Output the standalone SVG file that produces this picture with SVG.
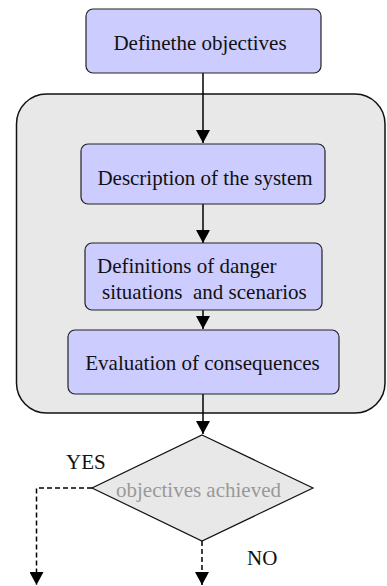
<svg xmlns="http://www.w3.org/2000/svg" width="387" height="586" viewBox="0 0 387 586">
<style>
  .box { fill: #ccccff; stroke: #222; stroke-width: 1.2; }
  .lbl { font-family: "Liberation Serif", "Times New Roman", serif; font-size: 21px; fill: #111; }
  .con { fill: none; stroke: #000; stroke-width: 1.5; }
  .dash { stroke-dasharray: 5 3; }
</style>
<defs>
  <marker id="arr" markerUnits="userSpaceOnUse" markerWidth="13" markerHeight="14" refX="13" refY="7" orient="auto">
    <path d="M0,0 L13,7 L0,14 z" fill="#000"/>
  </marker>
</defs>
<rect id="group" x="16.5" y="94" width="368.5" height="319" rx="30" ry="30" fill="#e8e8e8" stroke="#111" stroke-width="1.5"/>
<g id="connectors">
  <path class="con" d="M203,73 L203,143" marker-end="url(#arr)"/>
  <path class="con" d="M203,204 L203,243" marker-end="url(#arr)"/>
  <path class="con" d="M203,310 L203,329" marker-end="url(#arr)"/>
  <path class="con" d="M203,394 L203,434" marker-end="url(#arr)"/>
  <path class="con dash" d="M92,488 L36.5,488 L36.5,585" marker-end="url(#arr)"/>
  <path class="con dash" d="M202,541 L202,585" marker-end="url(#arr)"/>
</g>
<g id="objectives">
  <rect class="box" x="86" y="9" width="235" height="64" rx="7"/>
  <text class="lbl" x="200" y="50" text-anchor="middle">Definethe objectives</text>
</g>
<g id="description">
  <rect class="box" x="81" y="144" width="244" height="60" rx="7"/>
  <text class="lbl" x="205" y="185" text-anchor="middle">Description of the system</text>
</g>
<g id="definitions">
  <rect class="box" x="85" y="243" width="237" height="67" rx="7"/>
  <text class="lbl" x="97" y="273">Definitions of danger</text>
  <text class="lbl" x="102" y="299" xml:space="preserve" style="white-space:pre">situations  and scenarios</text>
</g>
<g id="evaluation">
  <rect class="box" x="68" y="330" width="271" height="64" rx="7"/>
  <text class="lbl" x="202.5" y="370" text-anchor="middle">Evaluation of consequences</text>
</g>
<g id="decision">
  <polygon points="202,435 313,488 202,541 92,488" fill="#e8e8e8" stroke="#111" stroke-width="1.2"/>
  <text class="lbl" x="198.5" y="497" text-anchor="middle" style="fill:#999">objectives achieved</text>
</g>
<g id="labels">
  <text class="lbl" x="66" y="469">YES</text>
  <text class="lbl" x="247" y="565">NO</text>
</g>
</svg>
